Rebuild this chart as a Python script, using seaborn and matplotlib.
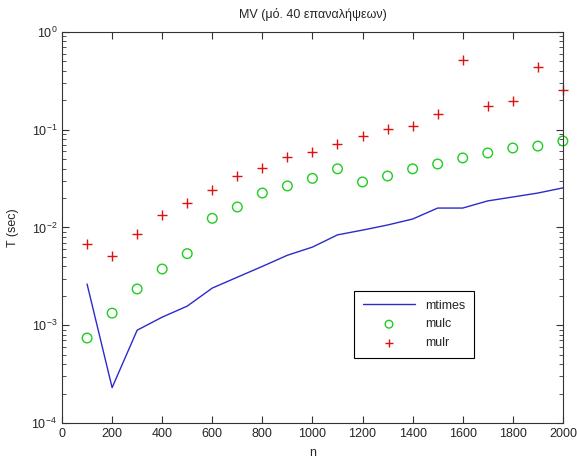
import numpy as np
import pandas as pd
import matplotlib
matplotlib.use('Agg')
import matplotlib.pyplot as plt
import seaborn as sns

# μετρήσεις (μέσος όρος 40 επαναλήψεων)
n = [100, 200, 300, 400, 500, 600, 700, 800, 900, 1000,
     1100, 1200, 1300, 1400, 1500, 1600, 1700, 1800, 1900, 2000]
mtimes = [2.64e-3, 2.3e-4, 8.9e-4, 1.21e-3, 1.57e-3, 2.4e-3, 3.1e-3, 4.0e-3, 5.2e-3, 6.3e-3,
          8.4e-3, 9.4e-3, 1.06e-2, 1.22e-2, 1.58e-2, 1.58e-2, 1.87e-2, 2.05e-2, 2.25e-2, 2.54e-2]
mulc = [7.4e-4, 1.33e-3, 2.35e-3, 3.76e-3, 5.4e-3, 1.24e-2, 1.62e-2, 2.25e-2, 2.66e-2, 3.18e-2,
        3.98e-2, 2.92e-2, 3.36e-2, 3.98e-2, 4.46e-2, 5.14e-2, 5.78e-2, 6.5e-2, 6.8e-2, 7.67e-2]
mulr = [6.8e-3, 5.1e-3, 8.6e-3, 1.34e-2, 1.78e-2, 2.42e-2, 3.36e-2, 4.06e-2, 5.26e-2, 5.9e-2,
        7.15e-2, 8.6e-2, 1.02e-1, 1.09e-1, 1.45e-1, 5.17e-1, 1.75e-1, 1.97e-1, 4.38e-1, 2.55e-1]

df = pd.DataFrame({'n': n, 'mtimes': mtimes, 'mulc': mulc, 'mulr': mulr})

sns.set_style('ticks')
plt.rcParams['font.family'] = ['Liberation Sans', 'DejaVu Sans']

fig = plt.figure(figsize=(5.77, 4.59), dpi=100)
ax = fig.add_axes([0.1075, 0.0784, 0.868, 0.852])

sns.lineplot(data=df, x='n', y='mtimes', ax=ax, color='#2b2bcc', linewidth=1.0, label='mtimes')
sns.scatterplot(data=df, x='n', y='mulc', ax=ax, marker='o', s=48, facecolor='none',
                edgecolor='#22cc22', linewidth=1.0, label='mulc', clip_on=False)
sns.scatterplot(data=df, x='n', y='mulr', ax=ax, marker='+', s=60, color='#e01010',
                linewidth=1.0, label='mulr', clip_on=False)

ax.set_yscale('log')
ax.set_xlim(0, 2000)
ax.set_ylim(1e-4, 1e0)
ax.set_xticks(range(0, 2001, 200))
ax.set_title('MV (μό. 40 επαναλήψεων)', fontsize=9, pad=10)
ax.set_xlabel('n', fontsize=9, labelpad=5)
ax.set_ylabel('T (sec)', fontsize=9, labelpad=9)

ax.tick_params(which='both', direction='in', top=True, right=True, labelsize=9, color='#333333')
ax.tick_params(which='major', length=5)
ax.tick_params(which='minor', length=3)
for s in ax.spines.values():
    s.set_visible(True)
    s.set_color('#333333')
    s.set_linewidth(0.8)

leg = ax.legend(loc='lower left', bbox_to_anchor=(0.583, 0.166), borderaxespad=0,
                fancybox=False, edgecolor='black', framealpha=1, fontsize=9,
                handlelength=4.2, labelspacing=0.55, borderpad=0.7, markerscale=0.8)
leg.get_frame().set_linewidth(0.8)

plt.savefig('out.png')
